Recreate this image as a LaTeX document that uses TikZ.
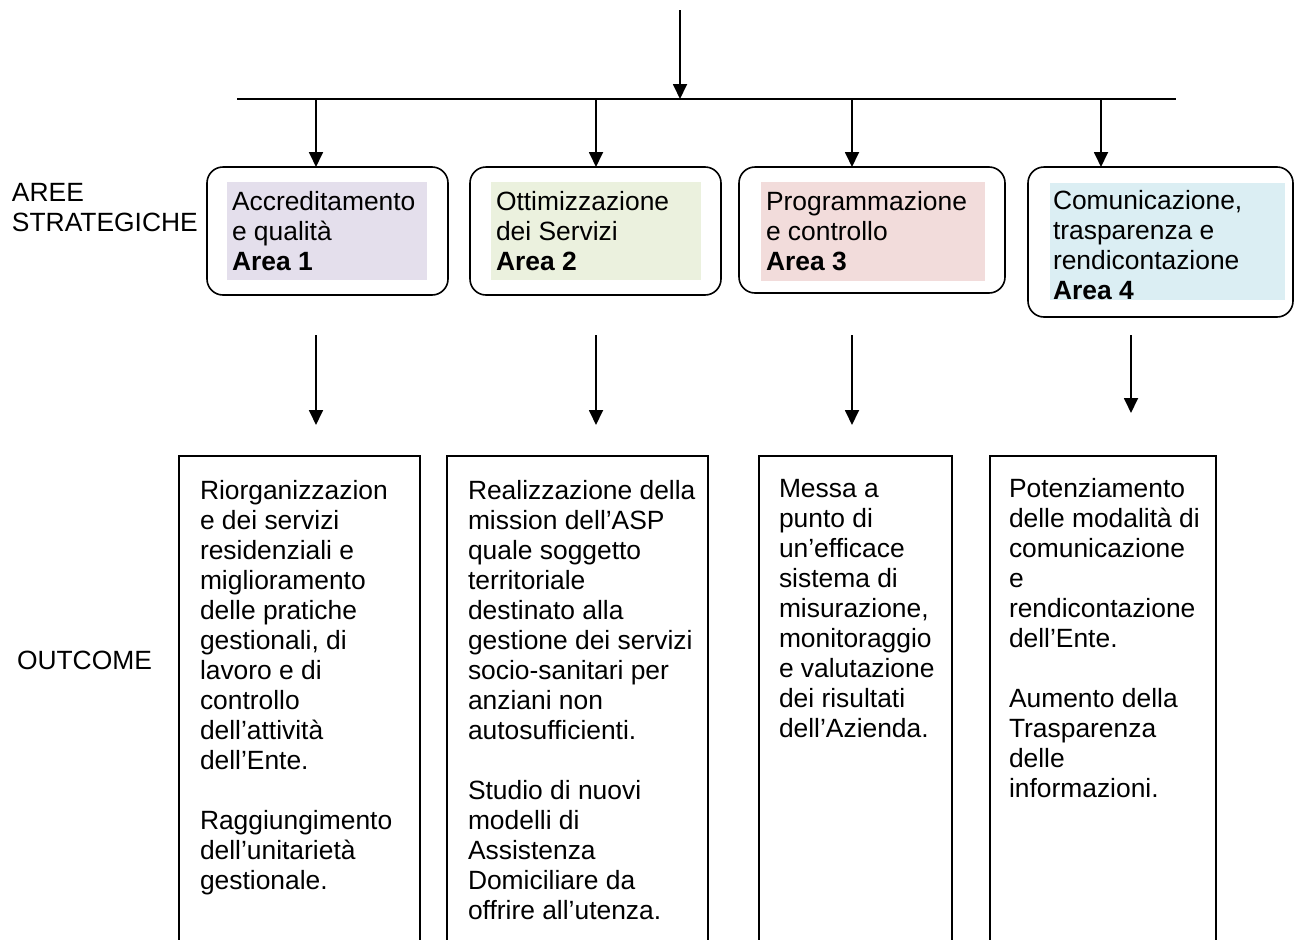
\documentclass[tikz,border=0pt]{standalone}
\usepackage{fontspec}
\setmainfont{Liberation Sans}
\usetikzlibrary{arrows.meta}
\definecolor{fillA}{HTML}{E4DFEC}
\definecolor{fillB}{HTML}{EBF1DE}
\definecolor{fillC}{HTML}{F2DCDB}
\definecolor{fillD}{HTML}{DBEEF3}
\begin{document}
\begin{tikzpicture}[x=1pt,y=-1pt,
  every node/.style={inner sep=0pt,outer sep=0pt,font=\fontsize{26.4}{30}\selectfont},
  arr/.style={line width=1.8pt,-{Triangle[width=14pt,length=15pt]}},
  abox/.style={draw,line width=1.6pt,rounded corners=16pt},
  obox/.style={line width=1.6pt},
  txt/.style={anchor=base west,align=left}]
\useasboundingbox (0,0) rectangle (1294,940);
% top arrow and bus
\coordinate (top) at (680,10);
\coordinate (busL) at (237,99);
\coordinate (busR) at (1176,99);
\draw[line width=1.6pt] (busL) -- (busR);
\draw[arr] (top) -- (top |- busL);
% strategic area boxes
\node[abox,minimum width=241,minimum height=128] (a1) at (327.5,231) {};
\node[abox,minimum width=251,minimum height=128] (a2) at (595.5,231) {};
\node[abox,minimum width=266,minimum height=126] (a3) at (872,230) {};
\node[abox,minimum width=265,minimum height=150] (a4) at (1160.5,242) {};
\fill[fillA] (227,182) rectangle (427,280);
\fill[fillB] (491,182) rectangle (701,280);
\fill[fillC] (761,182) rectangle (985,281);
\fill[fillD] (1050,183) rectangle (1285,300);
\node[txt] (t1) at (232,270) {Accreditamento\\e qualità\\\textbf{Area 1}};
\node[txt] (t2) at (496,270) {Ottimizzazione\\dei Servizi\\\textbf{Area 2}};
\node[txt] (t3) at (766,270) {Programmazione\\e controllo\\\textbf{Area 3}};
\node[txt] (t4) at (1053,299) {Comunicazione,\\trasparenza e\\rendicontazione\\\textbf{Area 4}};
% branch arrows
\coordinate (b1) at (316,99);
\coordinate (b2) at (596,99);
\coordinate (b3) at (852,99);
\coordinate (b4) at (1101,99);
\draw[arr] (b1) -- (b1 |- a1.north);
\draw[arr] (b2) -- (b2 |- a2.north);
\draw[arr] (b3) -- (b3 |- a3.north);
\draw[arr] (b4) -- (b4 |- a4.north);
% side labels
\node[txt] (lab1) at (12,231) {AREE\\STRATEGICHE};
\node[txt] (lab2) at (17,669) {OUTCOME};
% middle arrows
\coordinate (m1s) at (316,335); \coordinate (m1e) at (316,425);
\coordinate (m2s) at (596,335); \coordinate (m2e) at (596,425);
\coordinate (m3s) at (852,335); \coordinate (m3e) at (852,425);
\coordinate (m4s) at (1131,335); \coordinate (m4e) at (1131,413);
\draw[arr] (m1s) -- (m1e);
\draw[arr] (m2s) -- (m2e);
\draw[arr] (m3s) -- (m3e);
\draw[arr] (m4s) -- (m4e);
% outcome boxes (open at bottom)
\draw[obox] (179,945) -- (179,456) -- (420,456) -- (420,945);
\draw[obox] (447,945) -- (447,456) -- (708,456) -- (708,945);
\draw[obox] (759,945) -- (759,456) -- (952,456) -- (952,945);
\draw[obox] (990,945) -- (990,456) -- (1216,456) -- (1216,945);
\node[txt] (o1) at (200,889) {Riorganizzazion\\e dei servizi\\residenziali e\\miglioramento\\delle pratiche\\gestionali, di\\lavoro e di\\controllo\\dell’attività\\dell’Ente.\\[30pt]Raggiungimento\\dell’unitarietà\\gestionale.};
\node[txt] (o2) at (468,919) {Realizzazione della\\mission dell’ASP\\quale soggetto\\territoriale\\destinato alla\\gestione dei servizi\\socio-sanitari per\\anziani non\\autosufficienti.\\[30pt]Studio di nuovi\\modelli di\\Assistenza\\Domiciliare da\\offrire all’utenza.};
\node[txt] (o3) at (779,737) {Messa a\\punto di\\un’efficace\\sistema di\\misurazione,\\monitoraggio\\e valutazione\\dei risultati\\dell’Azienda.};
\node[txt] (o4) at (1009,797) {Potenziamento\\delle modalità di\\comunicazione\\e\\rendicontazione\\dell’Ente.\\[30pt]Aumento della\\Trasparenza\\delle\\informazioni.};
\end{tikzpicture}
\end{document}
